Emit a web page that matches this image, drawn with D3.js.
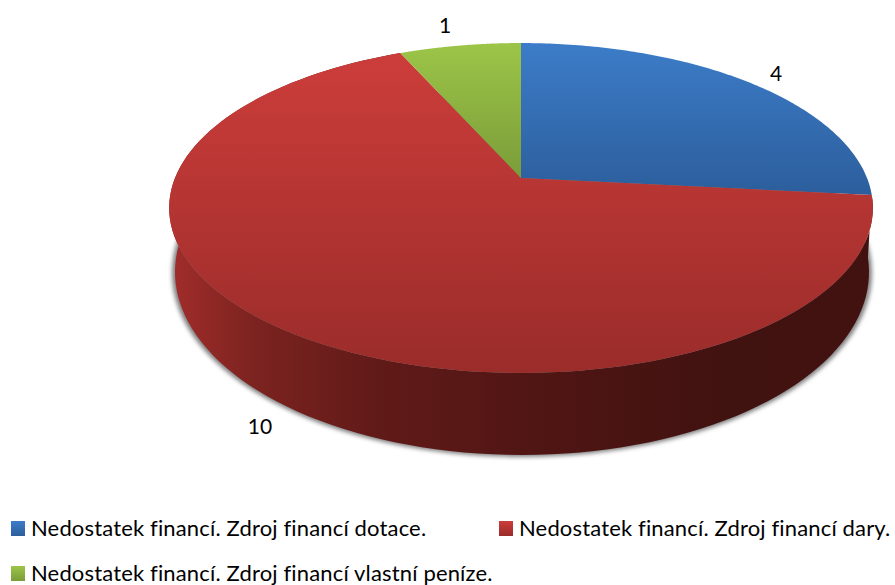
<!DOCTYPE html>
<html>
<head>
<meta charset="utf-8">
<script src="https://cdn.jsdelivr.net/npm/d3@7"></script>
<style>
  html, body { margin: 0; padding: 0; background: #fff; }
  svg { display: block; }
  text { font-family: Lato, "Open Sans", sans-serif; fill: #000; }
</style>
</head>
<body>
<svg id="chart" width="895" height="585"></svg>
<script>
const categories = [
  'Nedostatek financí. Zdroj financí dotace.',
  'Nedostatek financí. Zdroj financí dary.',
  'Nedostatek financí. Zdroj financí vlastní peníze.'
]
const values = [4, 10, 1]
const topColors = [['#3c7cc8', '#2c5e9c'], ['#cc3d3a', '#9a2c2a'], ['#9cc548', '#7b9c39']]

const svg = d3.select('#chart')
const defs = svg.append('defs')

// perspective of the pie top: the apex is not in the middle of the ellipse
const apex = [521, 178]
const persp = -0.1818
const scaleX = 346
const scaleY = 159.5

function project(angle) {
  const u = Math.sin(angle)
  const v = -Math.cos(angle)
  const w = 1 + persp * v
  return [apex[0] + scaleX * u / w, apex[1] + scaleY * v / w]
}

// lower rim of the wall
const rim = { cx: 522, cy: 272, rx: 347, ry: 183 }
function projectRim(angle) {
  const p = project(angle)
  const t = Math.atan2((p[1] - 208) / 165, (p[0] - 521) / 352)
  return [rim.cx + rim.rx * Math.cos(t), rim.cy + rim.ry * Math.sin(t)]
}

const slices = d3.pie().sort(null).value(d => d)(values)
const line = d3.line()

function arcPoints(a0, a1, fn) {
  return d3.range(0, 121).map(i => fn(a0 + (a1 - a0) * i / 120))
}

// soft shadow round the wall
defs.append('filter').attr('id', 'soft')
  .attr('x', '-5%').attr('y', '-5%').attr('width', '110%').attr('height', '110%')
  .append('feGaussianBlur').attr('stdDeviation', 2.2)

svg.append('ellipse')
  .attr('cx', rim.cx).attr('cy', rim.cy + 1)
  .attr('rx', rim.rx + 3).attr('ry', rim.ry + 1)
  .attr('fill', '#808080')
  .attr('filter', 'url(#soft)')

// wall gets darker from left to right
const wallGrad = defs.append('linearGradient').attr('id', 'wall')
  .attr('gradientUnits', 'userSpaceOnUse')
  .attr('x1', 169).attr('x2', 874).attr('y1', 0).attr('y2', 0)
wallGrad.selectAll('stop')
  .data([[0, '#a22d2b'], [0.12, '#7c2320'], [0.3, '#601a18'], [0.55, '#4e1513'], [0.8, '#401210'], [1, '#421210']])
  .enter().append('stop')
  .attr('offset', d => d[0])
  .attr('stop-color', d => d[1])

svg.append('g').selectAll('path')
  .data(slices.filter(d => d.data === d3.max(values)))
  .enter().append('path')
  .attr('d', d => line(arcPoints(d.startAngle, d.endAngle, project)
    .concat(arcPoints(d.startAngle, d.endAngle, projectRim).reverse())) + 'Z')
  .attr('fill', 'url(#wall)')

// top face
slices.forEach((d, i) => {
  const pts = arcPoints(d.startAngle, d.endAngle, project)
  const ys = pts.map(p => p[1]).concat(apex[1])
  const g = defs.append('linearGradient').attr('id', 'top' + i)
    .attr('gradientUnits', 'userSpaceOnUse')
    .attr('x1', 0).attr('x2', 0)
    .attr('y1', d3.min(ys)).attr('y2', d3.max(ys))
  g.append('stop').attr('offset', 0).attr('stop-color', topColors[i][0])
  g.append('stop').attr('offset', 1).attr('stop-color', topColors[i][1])
  svg.append('path')
    .attr('d', line([apex].concat(pts)) + 'Z')
    .attr('fill', `url(#top${i})`)
})

// value labels
const labelPos = [[776, 74], [260, 427], [445, 26]]
svg.append('g').selectAll('text')
  .data(values)
  .enter().append('text')
  .attr('x', (d, i) => labelPos[i][0])
  .attr('y', (d, i) => labelPos[i][1])
  .attr('dy', '0.35em')
  .attr('text-anchor', 'middle')
  .attr('font-size', 21)
  .text(d => d)

// legend
const legendPos = [[11, 529], [499, 529], [11, 574]]
const legend = svg.append('g').selectAll('g')
  .data(categories)
  .enter().append('g')
  .attr('transform', (d, i) => `translate(${legendPos[i][0]},${legendPos[i][1]})`)

topColors.forEach((c, i) => {
  const g = defs.append('linearGradient').attr('id', 'leg' + i)
    .attr('x1', 0).attr('x2', 0).attr('y1', 0).attr('y2', 1)
  g.append('stop').attr('offset', 0).attr('stop-color', c[0])
  g.append('stop').attr('offset', 1).attr('stop-color', c[1])
})

legend.append('rect')
  .attr('x', 0).attr('y', -8)
  .attr('width', 14).attr('height', 15)
  .attr('fill', (d, i) => `url(#leg${i})`)

legend.append('text')
  .attr('x', 20)
  .attr('dy', '0.3em')
  .attr('font-size', 22)
  .attr('letter-spacing', 0.155)
  .text(d => d)
</script>
</body>
</html>
